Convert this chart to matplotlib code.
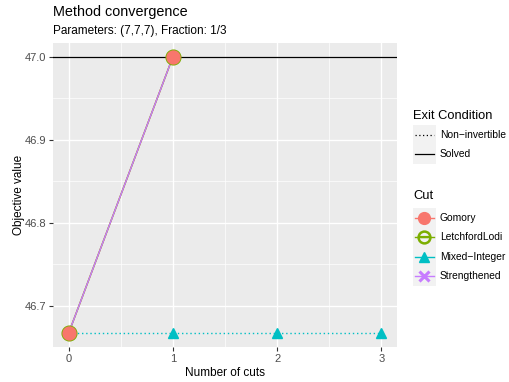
import matplotlib
matplotlib.use("Agg")
import matplotlib.pyplot as plt
from matplotlib.patches import Rectangle
from matplotlib.lines import Line2D

plt.rcParams['font.family'] = ['Liberation Sans', 'DejaVu Sans']

# Data
cuts = [0, 1, 2, 3]
gomory = [46.6667, 47.0]
letchford = [46.6667, 47.0]
mixed = [46.6667, 46.6667, 46.6667, 46.6667]
strengthened = [46.6667, 47.0]
optimum = 47.0
x_ticks = [0, 1, 2, 3]
y_ticks = [46.7, 46.8, 46.9, 47.0]

cols = {'Gomory': '#F8766D', 'LetchfordLodi': '#7CAE00',
        'Mixed\u2212Integer': '#00BFC4', 'Strengthened': '#C77CFF'}

W, H = 510, 382
fig = plt.figure(figsize=(W / 100, H / 100), dpi=100)

def px_box(l, t, r, b):
    return [l / W, 1 - b / H, (r - l) / W, (b - t) / H]

ax = fig.add_axes(px_box(53, 43, 397, 347))
ax.set_facecolor('#EBEBEB')
for s in ax.spines.values():
    s.set_visible(False)

ax.set_xlim(-0.15, 3.15)
ax.set_ylim(46.65, 47.0167)
ax.set_xticks(x_ticks)
ax.set_xticks([0.5, 1.5, 2.5], minor=True)
ax.set_yticks(y_ticks)
ax.set_yticks([46.65, 46.75, 46.85, 46.95], minor=True)
ax.set_yticklabels([f"{v:.1f}" for v in y_ticks])
ax.grid(True, which='major', color='white', lw=1.0)
ax.grid(True, which='minor', color='white', lw=0.5)
ax.set_axisbelow(True)
ax.tick_params(which='major', length=3, width=0.8, color='#333333',
               labelsize=8, labelcolor='#4D4D4D', pad=2)
ax.tick_params(which='minor', length=0)

ax.axhline(optimum, color='black', lw=0.9, zorder=2)

xs2 = cuts[:2]
ax.plot(cuts, mixed, color=cols['Mixed\u2212Integer'], lw=1.0, ls=(0, (1, 2)), zorder=3)
ax.plot(xs2, gomory, color=cols['Gomory'], lw=1.0, zorder=3)
ax.plot(xs2, letchford, color=cols['LetchfordLodi'], lw=1.0, zorder=3)
ax.plot(xs2, strengthened, color=cols['Strengthened'], lw=1.0, zorder=3)

ax.plot(cuts, mixed, ls='none', marker='^', ms=7, color=cols['Mixed\u2212Integer'], zorder=4)
ax.plot(xs2, strengthened, ls='none', marker='x', ms=7, mew=2.2, color=cols['Strengthened'], zorder=4)
ax.plot(xs2, letchford, ls='none', marker='o', ms=9.8, mfc='none', mew=1.8, color=cols['LetchfordLodi'], zorder=5)
ax.plot(xs2, gomory, ls='none', marker='o', ms=9.3, color=cols['Gomory'], zorder=6)

ax.set_xlabel('Number of cuts', fontsize=8.5, color='black', labelpad=2)
ax.set_ylabel('Objective value', fontsize=8.5, color='black', labelpad=-0.5)

fig.text(53 / W, 1 - 12 / H, 'Method convergence', fontsize=10.4, va='center', ha='left')
fig.text(53 / W, 1 - 31 / H, 'Parameters: (7,7,7), Fraction: 1/3', fontsize=8.5, va='center', ha='left')

# Legends
lax = fig.add_axes([0, 0, 1, 1])
lax.set_xlim(0, W)
lax.set_ylim(H, 0)
lax.axis('off')

kl, kr = 413, 436
def key_bg(top, n, step=19.5):
    lax.add_patch(Rectangle((kl, top), kr - kl, n * step, color='#F2F2F2', lw=0))

lax.text(413, 116, 'Exit Condition', fontsize=9.3, va='center', ha='left')
key_bg(125, 2)
rows1 = [(135, 'Non\u2212invertible', (0, (1, 2))), (154, 'Solved', '-')]
for y, lab, ls in rows1:
    lax.add_line(Line2D([kl + 2, kr - 2], [y, y], color='black', lw=0.9, ls=ls))
    lax.text(440, y, lab, fontsize=7.4, va='center', ha='left')

lax.text(413, 196, 'Cut', fontsize=9.3, va='center', ha='left')
key_bg(208, 4)
names = ['Gomory', 'LetchfordLodi', 'Mixed\u2212Integer', 'Strengthened']
ys = [218, 237, 257, 276]
xm = (kl + kr) / 2
for nm, y in zip(names, ys):
    c = cols[nm]
    lax.add_line(Line2D([kl + 2, kr - 2], [y, y], color=c, lw=1.0))
    lax.text(440, y, nm, fontsize=7.4, va='center', ha='left')
lax.plot([xm], [ys[0]], marker='o', ms=8.5, color=cols['Gomory'], ls='none')
lax.plot([xm], [ys[1]], marker='o', ms=8.5, mfc='none', mew=1.8, color=cols['LetchfordLodi'], ls='none')
lax.plot([xm], [ys[1]], marker='_', ms=7, mew=1.6, color=cols['LetchfordLodi'], ls='none')
lax.plot([xm], [ys[2]], marker='^', ms=7, color=cols['Mixed\u2212Integer'], ls='none')
lax.plot([xm], [ys[3]], marker='x', ms=7, mew=2.2, color=cols['Strengthened'], ls='none')

fig.savefig('out.png', dpi=100)
